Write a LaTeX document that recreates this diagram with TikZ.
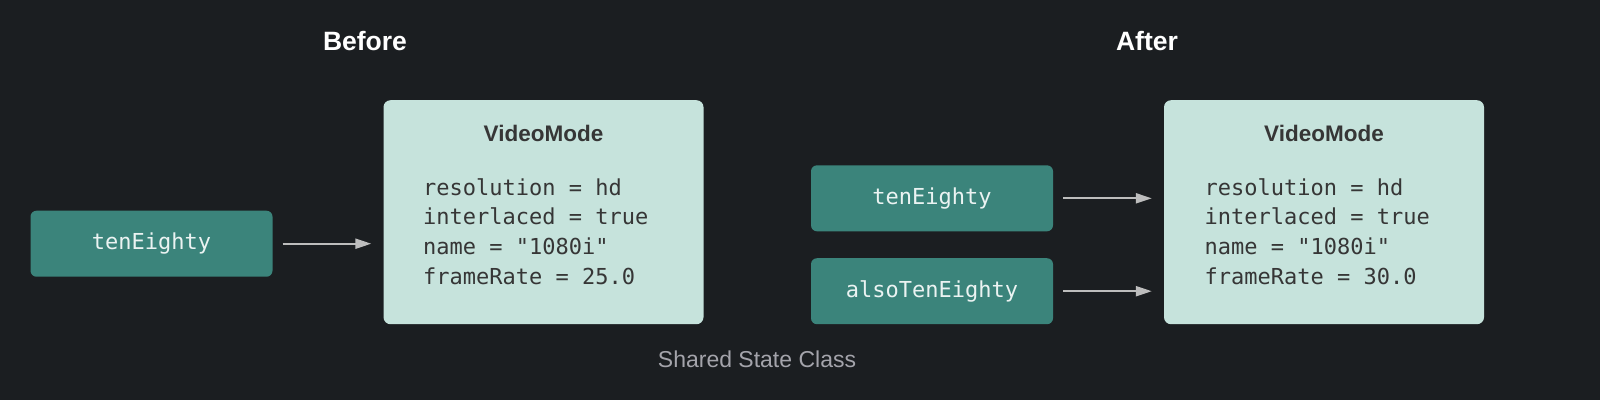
\documentclass[tikz,border=0pt]{standalone}
\usepackage{fontspec}
\setmainfont{Liberation Sans}
\setmonofont{DejaVu Sans Mono}
\usetikzlibrary{arrows.meta}

\definecolor{bgdark}{HTML}{1B1E21}
\definecolor{tealbox}{HTML}{3B847B}
\definecolor{mintbox}{HTML}{C6E3DC}
\definecolor{arrowgray}{HTML}{BDBDBD}
\definecolor{captiongray}{HTML}{A4A4AB}
\definecolor{fieldtext}{HTML}{363636}

\tikzset{
  varbox/.style={rectangle,rounded corners=6pt,fill=tealbox,inner sep=0pt,
    minimum width=242pt,minimum height=66pt,text=white!90!tealbox,
    font=\ttfamily\fontsize{22}{26}\selectfont},
  objbox/.style={rectangle,rounded corners=7pt,fill=mintbox,inner sep=0pt,
    minimum width=320pt,minimum height=224pt},
  objtitle/.style={text=fieldtext,font=\bfseries\fontsize{22.5}{26}\selectfont},
  fields/.style={anchor=west,align=left,inner sep=0pt,text=fieldtext,
    font=\ttfamily\fontsize{22}{29.7}\selectfont},
  heading/.style={text=white,font=\bfseries\fontsize{26.5}{30}\selectfont},
  reflink/.style={draw=arrowgray,line width=2pt,
    -{Triangle[length=16pt,width=10pt]},shorten <=10pt,shorten >=12pt}
}

\begin{document}
\begin{tikzpicture}[x=1pt,y=-1pt]

\fill[bgdark] (0,0) rectangle (1600,400);

\node [heading] (before) at (365,41) {Before};
\node [heading] (after) at (1147,41) {After};

% before
\node [varbox] (ten1) at (151.5,243.7) {tenEighty};
\node [objbox] (mode1) at (543.5,212.2) {};
\node [objtitle] (title1) at (543.5,133) {VideoMode};
\node [fields] (data1) at (423,231.5) {resolution = hd\\interlaced = true\\name = "1080i"\\frameRate = 25.0};

\draw [reflink] (ten1.east) -- (ten1.east -| mode1.west);

% after
\node [varbox] (ten2) at (932,198.3) {tenEighty};
\node [varbox] (also2) at (932,291.2) {alsoTenEighty};
\node [objbox] (mode2) at (1324,212.2) {};
\node [objtitle] (title2) at (1324,133) {VideoMode};
\node [fields] (data2) at (1204.5,231.5) {resolution = hd\\interlaced = true\\name = "1080i"\\frameRate = 30.0};

\draw [reflink] (ten2.east) -- (ten2.east -| mode2.west);
\draw [reflink] (also2.east) -- (also2.east -| mode2.west);

\node [text=captiongray,font=\fontsize{23}{26}\selectfont] (caption) at (757,359) {Shared State Class};

\end{tikzpicture}
\end{document}
